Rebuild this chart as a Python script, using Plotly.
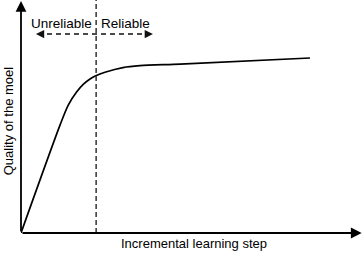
import plotly.graph_objects as go

# Data (arbitrary units: x 0-100 learning steps, y 0-100 quality)
steps = [0, 11.5, 13.9, 16.4, 18.3, 20.3, 22.0, 24.7, 30.0, 35.0, 46.8, 85.0]
quality = [0, 46.4, 54.9, 60.6, 63.8, 66.1, 67.5, 69.0, 71.0, 71.8, 72.5, 75.1]
threshold = 22.1
region_labels = ["Unreliable", "Reliable"]
arrow_span = [4.4, 38.8]
arrow_y = 85.4
label_y = 90.1
x_title = "Incremental learning step"
y_title = "Quality of the moel"

FONT = "Liberation Sans, Arial, Helvetica, sans-serif"

fig = go.Figure()
fig.add_trace(go.Scatter(
    x=steps, y=quality, mode="lines",
    line=dict(color="#000000", width=1.7, shape="spline", smoothing=0.8),
    cliponaxis=False, hoverinfo="skip", showlegend=False,
))

# dashed threshold line
fig.add_shape(type="line", x0=threshold, x1=threshold, y0=0, y1=100,
              xref="x", yref="y", line=dict(color="#333333", width=1.5, dash="5px,3px"))
# dashed double arrow line
fig.add_shape(type="line", x0=arrow_span[0] + 0.6, x1=arrow_span[1] - 0.6, y0=arrow_y, y1=arrow_y,
              xref="x", yref="y", line=dict(color="#111111", width=1.5, dash="5px,4px"))

annotations = []
# arrowheads of the dashed arrow
annotations.append(dict(x=arrow_span[0], y=arrow_y, ax=8, ay=0, xref="x", yref="y",
                        text="", showarrow=True, arrowhead=2, arrowsize=1.1, arrowwidth=1.5, arrowcolor="#111111"))
annotations.append(dict(x=arrow_span[1], y=arrow_y, ax=-8, ay=0, xref="x", yref="y",
                        text="", showarrow=True, arrowhead=2, arrowsize=1.1, arrowwidth=1.5, arrowcolor="#111111"))
# axes with arrows
annotations.append(dict(x=0, y=99.6, ax=0, ay=0, xref="x", yref="y", axref="x", ayref="y",
                        text="", showarrow=True, arrowhead=2, arrowsize=1.2, arrowwidth=1.8, arrowcolor="#000000"))
annotations.append(dict(x=100.2, y=0, ax=0, ay=0, xref="x", yref="y", axref="x", ayref="y",
                        text="", showarrow=True, arrowhead=2, arrowsize=1.2, arrowwidth=1.8, arrowcolor="#000000"))
# region labels
annotations.append(dict(x=threshold - 0.6, y=label_y, xref="x", yref="y", text=region_labels[0],
                        showarrow=False, xanchor="right", yanchor="middle",
                        font=dict(family=FONT, size=13.5, color="#000000")))
annotations.append(dict(x=threshold + 0.8, y=label_y, xref="x", yref="y", text=region_labels[1],
                        showarrow=False, xanchor="left", yanchor="middle",
                        font=dict(family=FONT, size=13.5, color="#000000")))
# axis titles
annotations.append(dict(x=0.509, y=-0.045, xref="paper", yref="paper", text=x_title,
                        showarrow=False, xanchor="center", yanchor="middle",
                        font=dict(family=FONT, size=13, color="#000000")))
annotations.append(dict(x=-0.038, y=0.48, xref="paper", yref="paper", text=y_title,
                        showarrow=False, xanchor="center", yanchor="middle", textangle=-90,
                        font=dict(family=FONT, size=13, color="#000000")))

fig.update_layout(
    width=362, height=253,
    margin=dict(l=21, r=1, t=0, b=20),
    paper_bgcolor="white", plot_bgcolor="white",
    xaxis=dict(range=[0, 100], visible=False, fixedrange=True),
    yaxis=dict(range=[0, 100], visible=False, fixedrange=True),
    annotations=annotations,
    showlegend=False,
)

# remove the default 8px page margin so the figure fills the window exactly
fig.write_html("out.html", config={"displayModeBar": False},
               post_script="document.body.style.margin='0px';document.body.style.overflow='hidden';")
